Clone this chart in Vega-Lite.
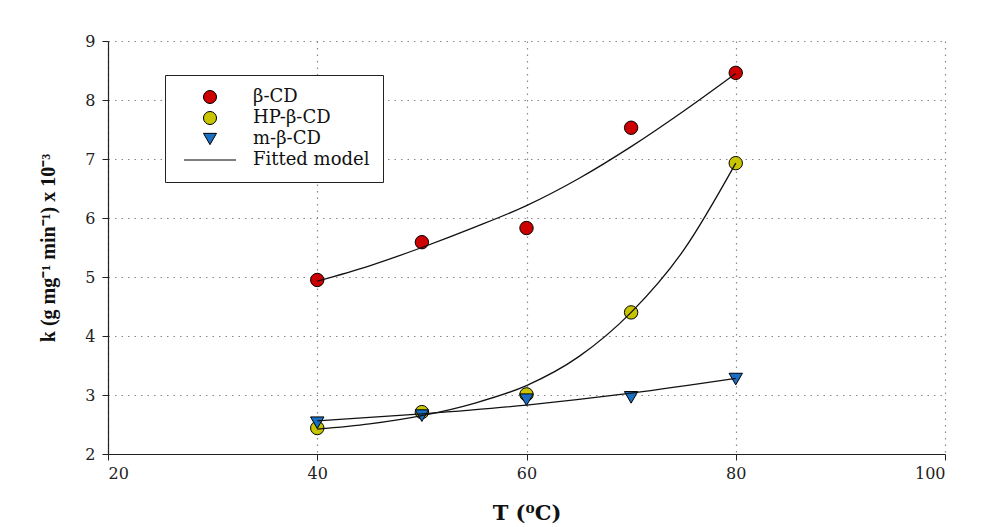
{
  "$schema": "https://vega.github.io/schema/vega-lite/v6.json",
  "width": 837,
  "height": 413,
  "autosize": {"type": "none"},
  "padding": {"left": 108, "top": 41, "right": 42, "bottom": 73},
  "background": "white",
  "config": {
    "view": {"stroke": null},
    "font": "DejaVu Serif",
    "axis": {
      "labelFont": "DejaVu Serif",
      "labelFontSize": 16,
      "labelColor": "#222",
      "titleFont": "DejaVu Serif",
      "titleFontSize": 19,
      "titleFontWeight": "bold",
      "titleColor": "#111",
      "domainColor": "#222",
      "domainWidth": 1.2,
      "tickColor": "#222",
      "tickSize": 6,
      "gridColor": "#888",
      "gridDash": [1.5, 5],
      "gridWidth": 1.2
    }
  },
  "datasets": {
    "measured": [
      {"T": 40, "k": 4.95, "series": "β-CD"},
      {"T": 50, "k": 5.59, "series": "β-CD"},
      {"T": 60, "k": 5.83, "series": "β-CD"},
      {"T": 70, "k": 7.53, "series": "β-CD"},
      {"T": 80, "k": 8.46, "series": "β-CD"},
      {"T": 40, "k": 2.44, "series": "HP-β-CD"},
      {"T": 50, "k": 2.71, "series": "HP-β-CD"},
      {"T": 60, "k": 3.01, "series": "HP-β-CD"},
      {"T": 70, "k": 4.40, "series": "HP-β-CD"},
      {"T": 80, "k": 6.93, "series": "HP-β-CD"},
      {"T": 40, "k": 2.53, "series": "m-β-CD"},
      {"T": 50, "k": 2.65, "series": "m-β-CD"},
      {"T": 60, "k": 2.92, "series": "m-β-CD"},
      {"T": 70, "k": 2.96, "series": "m-β-CD"},
      {"T": 80, "k": 3.27, "series": "m-β-CD"}
    ],
    "fitted": [
      {"T": 40, "k": 4.93, "series": "β-CD"},
      {"T": 45, "k": 5.19, "series": "β-CD"},
      {"T": 50, "k": 5.50, "series": "β-CD"},
      {"T": 55, "k": 5.84, "series": "β-CD"},
      {"T": 60, "k": 6.21, "series": "β-CD"},
      {"T": 65, "k": 6.67, "series": "β-CD"},
      {"T": 70, "k": 7.21, "series": "β-CD"},
      {"T": 75, "k": 7.81, "series": "β-CD"},
      {"T": 80, "k": 8.45, "series": "β-CD"},
      {"T": 40, "k": 2.42, "series": "HP-β-CD"},
      {"T": 45, "k": 2.51, "series": "HP-β-CD"},
      {"T": 50, "k": 2.65, "series": "HP-β-CD"},
      {"T": 55, "k": 2.86, "series": "HP-β-CD"},
      {"T": 60, "k": 3.16, "series": "HP-β-CD"},
      {"T": 65, "k": 3.65, "series": "HP-β-CD"},
      {"T": 70, "k": 4.40, "series": "HP-β-CD"},
      {"T": 75, "k": 5.45, "series": "HP-β-CD"},
      {"T": 80, "k": 6.93, "series": "HP-β-CD"},
      {"T": 40, "k": 2.56, "series": "m-β-CD"},
      {"T": 50, "k": 2.68, "series": "m-β-CD"},
      {"T": 60, "k": 2.83, "series": "m-β-CD"},
      {"T": 70, "k": 3.03, "series": "m-β-CD"},
      {"T": 80, "k": 3.28, "series": "m-β-CD"}
    ]
  },
  "layer": [
    {
      "data": {"name": "measured"},
      "mark": {"type": "point", "filled": true, "opacity": 1, "stroke": "black", "strokeWidth": 1, "size": 180},
      "encoding": {
        "x": {
          "field": "T", "type": "quantitative",
          "scale": {"domain": [20, 100], "nice": false, "zero": false},
          "axis": {"values": [20, 40, 60, 80, 100], "format": "d", "title": "T (⁰C)", "titleFontSize": 21, "titlePadding": 21, "labelPadding": 5}
        },
        "y": {
          "field": "k", "type": "quantitative",
          "scale": {"domain": [2, 9], "nice": false, "zero": false},
          "axis": {"values": [2, 3, 4, 5, 6, 7, 8, 9], "format": "d", "title": "k (g mg⁻¹ min⁻¹) x 10⁻³", "titleFont": "Liberation Serif", "titleFontSize": 20, "titlePadding": 26, "labelPadding": 7}
        },
        "fill": {
          "field": "series", "type": "nominal",
          "scale": {
            "domain": ["β-CD", "HP-β-CD", "m-β-CD", "Fitted model"],
            "range": ["#cc0000", "#c8c400", "#1a6fc4", "black"]
          },
          "legend": {
            "title": null,
            "orient": "none",
            "legendX": 57,
            "legendY": 34,
            "strokeColor": "#222",
            "padding": 13,
            "fillColor": "white",
            "labelFont": "DejaVu Serif",
            "labelFontSize": 18,
            "labelColor": "#111",
            "symbolOffset": 23,
            "labelOffset": 34,
            "rowPadding": 3,
            "symbolSize": 170,
            "symbolStrokeColor": "black",
            "symbolStrokeWidth": 1,
            "symbolOpacity": 1
          }
        },
        "shape": {
          "field": "series", "type": "nominal",
          "scale": {
            "domain": ["β-CD", "HP-β-CD", "m-β-CD", "Fitted model"],
            "range": ["circle", "circle", "triangle-down", "M-4,0H4"]
          }
        }
      }
    },
    {
      "data": {"name": "fitted"},
      "mark": {"type": "line", "color": "#111", "strokeWidth": 1.3, "interpolate": "monotone"},
      "encoding": {
        "x": {"field": "T", "type": "quantitative"},
        "y": {"field": "k", "type": "quantitative"},
        "detail": {"field": "series", "type": "nominal"}
      }
    }
  ]
}
